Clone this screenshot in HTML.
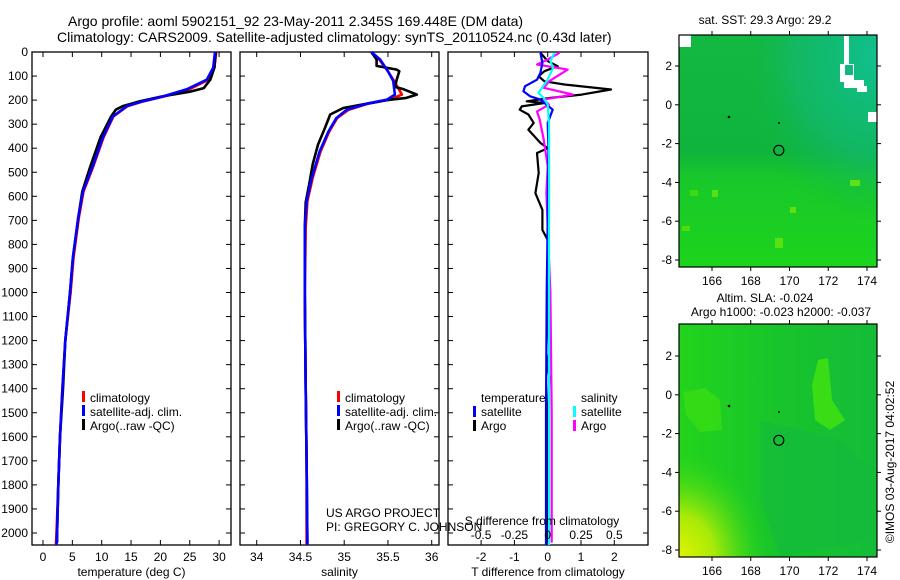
<!DOCTYPE html>
<html><head><meta charset="utf-8"><style>
html,body{margin:0;padding:0;background:#fff;}
svg{display:block;font-family:"Liberation Sans",sans-serif;}
text{fill:#000;}
</style></head><body>
<svg id="fig" width="900" height="580" viewBox="0 0 900 580" xmlns="http://www.w3.org/2000/svg">
<g font-size="14">
<text x="68" y="26">Argo profile: aoml 5902151_92 23-May-2011 2.345S 169.448E (DM data)</text>
<text x="57" y="42">Climatology: CARS2009. Satellite-adjusted climatology: synTS_20110524.nc (0.43d later)</text>
</g>
<g id="maps">
<defs>
<linearGradient id="sstg" x1="0" y1="0" x2="0" y2="1">
<stop offset="0" stop-color="#12b840"/><stop offset="0.5" stop-color="#0fb43c"/><stop offset="0.62" stop-color="#18c82a"/><stop offset="1" stop-color="#1cd41c"/>
</linearGradient>
<radialGradient id="sstne" cx="1" cy="0.1" r="0.7">
<stop offset="0" stop-color="#10c090"/><stop offset="0.6" stop-color="#12b870" stop-opacity="0.7"/><stop offset="1" stop-color="#12b840" stop-opacity="0"/>
</radialGradient>
<linearGradient id="slag" x1="0" y1="0" x2="1" y2="0">
<stop offset="0" stop-color="#22d41c"/><stop offset="0.5" stop-color="#18c42c"/><stop offset="1" stop-color="#14bc38"/>
</linearGradient>
<radialGradient id="slasw" cx="0" cy="1" r="0.45">
<stop offset="0" stop-color="#e0f400"/><stop offset="0.4" stop-color="#a8ea08"/><stop offset="1" stop-color="#30d818" stop-opacity="0"/>
</radialGradient>
</defs>
<text x="765" y="24" text-anchor="middle" font-size="12">sat. SST: 29.3 Argo: 29.2</text>
<g>
<rect x="679" y="35" width="198" height="232" fill="url(#sstg)"/>
<rect x="679" y="35" width="198" height="232" fill="url(#sstne)"/>
<rect x="690" y="190" width="8" height="6" fill="#40d810"/><rect x="712" y="190" width="6" height="7" fill="#58e010"/>
<rect x="790" y="207" width="6" height="6" fill="#60e010"/><rect x="850" y="180" width="10" height="6" fill="#60e018"/>
<rect x="775" y="238" width="8" height="10" fill="#58e010"/><rect x="682" y="226" width="8" height="5" fill="#50dc10"/>
<rect x="679" y="35" width="12" height="12" fill="#fff"/>
<rect x="844" y="36" width="5" height="30" fill="#fff"/><rect x="840" y="64" width="14" height="18" fill="#fff"/>
<rect x="844" y="80" width="20" height="8" fill="#fff"/><rect x="857" y="86" width="10" height="6" fill="#fff"/><rect x="868" y="112" width="9" height="10" fill="#fff"/>
<rect x="845" y="65" width="8" height="10" fill="#10b880"/>
<rect x="679" y="35" width="198" height="232" fill="none" stroke="#000" stroke-width="1.2"/>
<circle cx="729" cy="117" r="1.3" fill="#000"/><circle cx="779" cy="123" r="1" fill="#000"/>
<g id="sstticks"></g>
</g>
<text x="765" y="302" text-anchor="middle" font-size="12">Altim. SLA: -0.024</text>
<text x="781" y="316" text-anchor="middle" font-size="12">Argo h1000: -0.023 h2000: -0.037</text>
<g>
<rect x="679" y="324" width="198" height="233" fill="url(#slag)"/>
<rect x="679" y="324" width="198" height="233" fill="url(#slasw)"/>
<path d="M812 385 L818 360 L828 358 L832 400 L845 420 L830 430 L815 420 Z" fill="#40e010" opacity="0.85"/>
<path d="M683 392 L705 388 L720 400 L722 430 L700 432 L686 415 Z" fill="#38dc14" opacity="0.8"/>
<path d="M760 420 L840 440 L870 470 L870 540 L780 557 L760 500 Z" fill="#12b840" opacity="0.5"/>
<rect x="679" y="324" width="198" height="233" fill="none" stroke="#000" stroke-width="1.2"/>
<circle cx="729" cy="406" r="1.3" fill="#000"/><circle cx="779" cy="412" r="1" fill="#000"/>
<g id="slaticks"></g>
</g>
<text transform="translate(894,462) rotate(-90)" text-anchor="middle" font-size="12">©IMOS 03-Aug-2017 04:02:52</text>
</g>
<g id="panels"></g>
<g font-size="12">
<rect x="82" y="391" width="3" height="11" fill="#f00"/><text x="90" y="402">climatology</text>
<rect x="82" y="405" width="3" height="11" fill="#00f"/><text x="90" y="416">satellite-adj. clim.</text>
<rect x="82" y="419" width="3" height="11" fill="#000"/><text x="90" y="430">Argo(..raw -QC)</text>
<rect x="337" y="391" width="3" height="11" fill="#f00"/><text x="345" y="402">climatology</text>
<rect x="337" y="405" width="3" height="11" fill="#00f"/><text x="345" y="416">satellite-adj. clim.</text>
<rect x="337" y="419" width="3" height="11" fill="#000"/><text x="345" y="430">Argo(..raw -QC)</text>
<text x="481" y="402">temperature</text><text x="581" y="402">salinity</text>
<rect x="473" y="406" width="3" height="11" fill="#00f"/><text x="481" y="416">satellite</text>
<rect x="473" y="420" width="3" height="11" fill="#000"/><text x="481" y="430">Argo</text>
<rect x="573" y="406" width="3" height="11" fill="#0ff"/><text x="581" y="416">satellite</text>
<rect x="573" y="420" width="3" height="11" fill="#f0f"/><text x="581" y="430">Argo</text>
<text x="326" y="517">US ARGO PROJECT</text>
<text x="326" y="531">PI: GREGORY C. JOHNSON</text>
</g>
</svg>
<script>
// ---- data ----
const depthTicks=[0,100,200,300,400,500,600,700,800,900,1000,1100,1200,1300,1400,1500,1600,1700,1800,1900,2000];
const tempTicks=[0,5,10,15,20,25,30];
const salTicks=[34,34.5,35,35.5,36];
const salTickLabels=["34","34.5","35","35.5","36"];
const tdiffTicks=[-2,-1,0,1,2];
const sdiffTicks=[-0.5,-0.25,0,0.25,0.5];
const lonTicks=[166,168,170,172,174];
const latTicks=[2,0,-2,-4,-6,-8];

const tDepth=[0,65,115,155,185,205,225,268,355,480,580,690,855,1000,1200,1400,1600,1800,2000,2050];
const tSat=[29.3,29.0,27.9,24.5,20.4,17.0,14.3,11.9,10.2,8.4,6.8,6.0,5.1,4.6,3.8,3.3,2.9,2.6,2.4,2.3];
const tClim=[29.5,29.2,28.2,24.9,20.6,17.1,14.4,12.0,10.3,8.5,6.9,6.1,5.2,4.7,3.8,3.3,2.9,2.6,2.3,2.2];
const aDepth=[0,65,115,150,165,185,205,225,240,268,355,480,580,690,855,1000,1200,1400,1600,1800,2000,2040];
const tArgo=[29.4,29.2,28.5,27.4,25.0,20.2,16.5,13.6,12.4,11.6,9.8,8.0,6.7,6.0,5.1,4.6,3.8,3.4,2.9,2.6,2.4,2.4];

const sDepth=[0,31,80,120,177,198,215,240,275,330,413,523,620,730,1000,1400,1700,2050];
const sSat=[35.31,35.41,35.5,35.56,35.58,35.49,35.26,35.03,34.91,34.82,34.72,34.63,34.57,34.55,34.55,34.56,34.57,34.58];
const sClim=[35.31,35.40,35.5,35.57,35.66,35.52,35.27,35.05,34.92,34.83,34.73,34.64,34.58,34.56,34.55,34.56,34.57,34.57];
const saDepth=[0,31,58,73,80,115,145,155,177,191,200,215,233,260,315,385,467,550,625,730,1000,1400,1700,2040];
const sArgo=[35.31,35.37,35.37,35.6,35.63,35.6,35.58,35.68,35.83,35.71,35.49,35.26,34.99,34.84,34.78,34.70,34.64,34.60,34.56,34.55,34.55,34.56,34.57,34.58];

const dtDepth=[3,38,59,80,101,122,135,156,177,191,205,212,226,240,260,295,323,378,400,420,503,587,656,740,781,920,1100,1250,1300,1350,1500,1800,2040];
const dtArgo=[-0.22,0,0.3,-0.1,-0.27,-0.1,0.5,1.9,1.02,0.09,-0.63,-0.1,-0.78,-0.84,-0.58,-0.42,-0.58,-0.22,0,-0.32,-0.27,-0.37,-0.16,-0.16,0,0.02,0,0.05,-0.03,0.05,0,0,0];
const dtsDepth=[3,45,87,115,142,163,184,198,240,295,400,700,1000,1500,2050];
const dtSat=[-0.22,-0.16,-0.22,-0.32,-0.68,-0.73,-0.53,-0.22,0.15,0,0.02,0,-0.03,-0.05,-0.05];
const dsDepth=[3,31,52,73,101,122,149,177,198,219,247,281,364,475,586,730,1000,1500,2040];
const dsArgo=[0.09,0,-0.08,0.15,0.07,0.01,-0.03,0.19,-0.03,0.01,-0.08,-0.06,-0.03,0,-0.01,0,0.02,0.03,0.03];
const dssDepth=[3,38,66,115,170,191,219,300,600,1000,1500,2050];
const dsSat=[0.05,0.02,0.04,0,-0.07,-0.03,0,0.01,0.01,0.01,0.01,0.01];

// ---- axes ----
const NS="http://www.w3.org/2000/svg";
const top0=52, bot=545;
const yD=d=>top0+d*0.2405;
const xT=v=>43+v*5.87;
const xS=v=>256.7+(v-34)*87.5;
const xDT=v=>547.7+v*33.3;
const xDS=v=>547.7+v*133.3;
const lonX=v=>712+(v-166)*19.375;
const latY1=v=>66+(2-v)*19.4;
const latY2=v=>356+(2-v)*19.4;

function mk(tag,attrs,parent){const e=document.createElementNS(NS,tag);for(const k in attrs)e.setAttribute(k,attrs[k]);parent.appendChild(e);return e;}
const panels=document.getElementById('panels');

function panel(name,x0,x1,xf,ticks,labels,xlabel){
  const g=mk('g',{},panels);
  
  
  const fr=mk('rect',{x:x0,y:top0,width:x1-x0,height:bot-top0,fill:'none',stroke:'#000','stroke-width':1.3},g);
  
  
  depthTicks.forEach(d=>{const y=yD(d);
    mk('line',{x1:x0,x2:x0+5,y1:y,y2:y,stroke:'#000'},g);
    mk('line',{x1:x1,x2:x1-5,y1:y,y2:y,stroke:'#000'},g);});
  ticks.forEach((v,i)=>{const x=xf(v);
    mk('line',{x1:x,x2:x,y1:top0,y2:top0+5,stroke:'#000'},g);
    mk('line',{x1:x,x2:x,y1:bot,y2:bot-5,stroke:'#000'},g);
    const t=mk('text',{x:x,y:561,'text-anchor':'middle','font-size':12},g);t.textContent=labels[i];
    
    });
  const xl=mk('text',{x:(x0+x1)/2,y:576,'text-anchor':'middle','font-size':12},g);xl.textContent=xlabel;
  
  
  return g;
}
function line(g,xs,ds,xf,color,name,w){
  const p=mk('polyline',{points:xs.map((v,i)=>xf(v).toFixed(1)+','+yD(ds[i]).toFixed(1)).join(' '),fill:'none',stroke:color,'stroke-width':w||2.6,'stroke-linejoin':'round'},g);
  
  
}
const g1=panel('temperature-panel',32,231,xT,tempTicks,tempTicks.map(String),'temperature (deg C)');
depthTicks.forEach(d=>{const t=mk('text',{x:28,y:yD(d)+4,'text-anchor':'end','font-size':12},g1);t.textContent=d;
  
  });
line(g1,tClim,tDepth,xT,'#f00','temp-climatology-line');
line(g1,tArgo,aDepth,xT,'#000','temp-argo-line');
line(g1,tSat,tDepth,xT,'#00f','temp-satellite-line');

const g2=panel('salinity-panel',240,439,xS,salTicks,salTickLabels,'salinity');
line(g2,sClim,sDepth,xS,'#f00','sal-climatology-line');
line(g2,sArgo,saDepth,xS,'#000','sal-argo-line');
line(g2,sSat,sDepth,xS,'#00f','sal-satellite-line');

const g3=panel('difference-panel',448,648,xDT,tdiffTicks,tdiffTicks.map(String),'T difference from climatology');
line(g3,dtArgo,dtDepth,xDT,'#000','tdiff-argo-line',2.2);
line(g3,dsArgo,dsDepth,xDS,'#f0f','sdiff-argo-line',2.2);
line(g3,dtSat,dtsDepth,xDT,'#00f','tdiff-satellite-line',2.2);
line(g3,dsSat,dssDepth,xDS,'#0ff','sdiff-satellite-line',2.2);
sdiffTicks.forEach(v=>{const t=mk('text',{x:xDS(v),y:539,'text-anchor':'middle','font-size':12},g3);t.textContent=String(v);
  
  });
const st=mk('text',{x:542,y:525,'text-anchor':'middle','font-size':12},g3);st.textContent='S difference from climatology';



function mapTicks(id,latY,y0,y1){
  const g=document.getElementById(id);
  lonTicks.forEach(v=>{const x=lonX(v);
    mk('line',{x1:x,x2:x,y1:y0,y2:y0-4,stroke:'#000'},g);
    mk('line',{x1:x,x2:x,y1:y1,y2:y1+4,stroke:'#000'},g);
    const t=mk('text',{x:x,y:y1+18,'text-anchor':'middle','font-size':12},g);t.textContent=v;
    
    });
  latTicks.forEach(v=>{const y=latY(v);
    mk('line',{x1:679,x2:675,y1:y,y2:y,stroke:'#000'},g);
    mk('line',{x1:877,x2:881,y1:y,y2:y,stroke:'#000'},g);
    const t=mk('text',{x:672,y:y+4,'text-anchor':'end','font-size':12},g);t.textContent=v;
    
    });
  const c=mk('circle',{cx:lonX(169.448),cy:latY(-2.345),r:5,fill:'none',stroke:'#000','stroke-width':1.2},g);
  
  
}
mapTicks('sstticks',latY1,35,267);
mapTicks('slaticks',latY2,324,557);
</script>
</body></html>
